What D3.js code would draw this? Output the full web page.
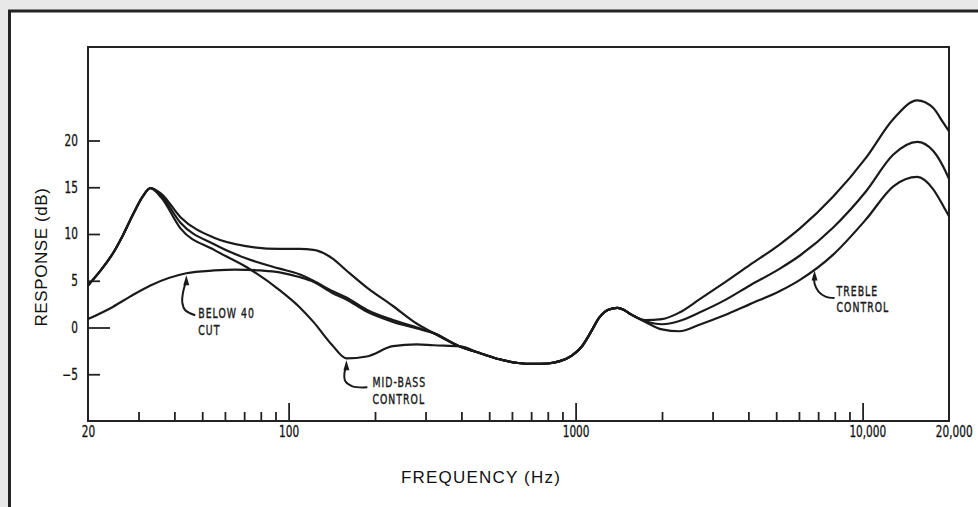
<!DOCTYPE html>
<html>
<head>
<meta charset="utf-8">
<script src="https://cdn.jsdelivr.net/npm/d3@7"></script>
<style>
  body { margin: 0; background: #e7e8e7; }
  svg { display: block; }
</style>
</head>
<body>
<script>
// axis ticks
const freqMinor = [30, 40, 50, 60, 70, 80, 90, 200, 300, 400, 500, 600, 700, 800, 900,
  2000, 3000, 4000, 5000, 6000, 7000, 8000, 9000]
const freqMajor = [100, 1000, 10000]
const freqLabels = [20, 100, 1000, 10000, 20000]
const dbTicks = [-5, 0, 5, 10, 15, 20]

// common bass rise up to the 33 Hz hump
const riseFreq = [20, 22, 24.5, 26.5, 28.6, 31]
const riseDb = [4.5, 6.0, 8.0, 9.9, 12.0, 14.0]

// mid-bass control: boost / flat / cut
const bassFreq = [33, 36, 42, 55, 71, 93, 109, 122, 142, 159, 187, 231, 280, 320]
const boostDb = [14.9, 14.3, 11.8, 9.6, 8.7, 8.4, 8.4, 8.3, 7.4, 6.1, 4.3, 2.3, 0.4, -0.6]
const flatDb = [14.9, 14.1, 11.2, 8.9, 7.4, 6.3, 5.7, 5.0, 3.9, 3.2, 1.9, 0.8, 0.0, -0.6]
const cutDb = [14.9, 13.9, 10.6, 8.3, 6.5, 4.0, 2.2, 0.6, -1.9, -3.3, -3.1, -2.0, -1.8, -1.9]

// below 40 cut
const below40Freq = [20, 24.4, 28, 33, 44, 55, 65, 80, 93, 109, 122, 142, 159, 187, 231, 280, 320]
const below40Db = [0.9, 2.2, 3.3, 4.5, 5.8, 6.1, 6.2, 6.1, 5.9, 5.4, 4.9, 3.7, 3.0, 1.7, 0.6, -0.1, -0.6]

// shared midrange
const midFreq = [393, 470, 543, 630, 712, 800, 881, 970, 1053, 1130, 1205, 1300, 1400, 1470, 1540]
const midDb = [-2.0, -2.8, -3.4, -3.8, -3.9, -3.85, -3.6, -3.0, -2.0, -0.5, 1.0, 1.9, 2.1, 1.9, 1.5]

// treble control
const trebleFreq = [1750, 2000, 2300, 2700, 3300, 4050, 5150, 6050, 7900, 10300, 12800, 15500, 17600, 19100, 20000]
const trebleTopDb = [0.8, 0.9, 1.6, 3.0, 4.8, 6.7, 8.9, 10.6, 14.0, 18.2, 22.3, 24.3, 23.5, 21.9, 21.0]
const trebleMidDb = [0.7, 0.35, 0.7, 1.6, 2.9, 4.5, 6.3, 7.7, 10.7, 14.6, 18.5, 19.85, 18.9, 17.2, 15.9]
const trebleLowDb = [0.6, -0.2, -0.4, 0.3, 1.3, 2.5, 3.9, 5.1, 7.8, 11.6, 15.1, 16.1, 14.8, 13.0, 11.9]

// annotations
const noteText = [['BELOW 40', 'CUT'], ['MID-BASS', 'CONTROL'], ['TREBLE', 'CONTROL']]
const noteFreq = [44, 159, 6800]
const noteDb = [5.8, -3.3, 6.3]

const w = 978
const h = 507
const padL = 88, padR = 949, padT = 47, padB = 421

const xScale = d3.scaleLog().domain([20, 20000]).range([padL, padR])
const yScale = d3.scaleLinear().domain([-10, 30]).range([padB, padT])

const pts = (f, v) => f.map((d, i) => [d, v[i]])

const curves = [
  [...pts(riseFreq, riseDb), ...pts(bassFreq, boostDb), ...pts(midFreq, midDb), ...pts(trebleFreq, trebleTopDb)],
  [...pts(riseFreq, riseDb), ...pts(bassFreq, flatDb), ...pts(midFreq, midDb), ...pts(trebleFreq, trebleMidDb)],
  [...pts(riseFreq, riseDb), ...pts(bassFreq, cutDb), ...pts(midFreq, midDb), ...pts(trebleFreq, trebleLowDb)],
  [...pts(below40Freq, below40Db), ...pts(midFreq, midDb)]
]

const svg = d3.select('body')
  .append('svg')
  .attr('width', w)
  .attr('height', h)

// paper panel
svg.append('rect')
  .attr('x', 9.5)
  .attr('y', 11)
  .attr('width', 1000)
  .attr('height', 600)
  .attr('fill', '#fff')
  .attr('stroke', '#222')
  .attr('stroke-width', 3)

// narrow lettering: condensed font squeezed horizontally
const narrowFont = "'DejaVu Sans Condensed', 'DejaVu Sans', sans-serif"

// x ticks (inward)
svg.append('g')
  .attr('transform', `translate(0, ${padB})`)
  .call(d3.axisBottom(xScale).tickValues(freqMinor).tickSize(-9).tickFormat(''))
svg.append('g')
  .attr('transform', `translate(0, ${padB})`)
  .call(d3.axisBottom(xScale).tickValues(freqMajor).tickSize(-18).tickFormat(''))
const xLab = svg.append('g')
  .attr('transform', `translate(0, ${padB})`)
  .call(d3.axisBottom(xScale).tickValues(freqLabels).tickSize(0).tickPadding(5)
    .tickFormat(d => d >= 10000 ? d3.format(',')(d) : d))
xLab.selectAll('text').attr('dx', d => d >= 10000 ? 6 : 0)

// y ticks (inward)
const yAx = svg.append('g')
  .attr('transform', `translate(${padL}, 0)`)
  .call(d3.axisLeft(yScale).tickValues(dbTicks).tickSize(-12).tickPadding(13))
yAx.selectAll('.tick').filter(d => d === 0).select('line').attr('x2', 22)

svg.selectAll('.domain').remove()
svg.selectAll('.tick line').attr('stroke', '#222').attr('stroke-width', 1.8)
svg.selectAll('.tick text')
  .attr('fill', '#111')
  .attr('stroke', '#111')
  .attr('stroke-width', 0.3)
  .attr('transform', 'scale(0.78, 1)')
  .style('font-family', narrowFont)
  .style('font-size', '15px')

// plot frame
svg.append('rect')
  .attr('x', padL)
  .attr('y', padT)
  .attr('width', padR - padL)
  .attr('height', padB - padT)
  .attr('fill', 'none')
  .attr('stroke', '#222')
  .attr('stroke-width', 2)

// response curves
const line = d3.line()
  .x(d => xScale(d[0]))
  .y(d => yScale(d[1]))
  .curve(d3.curveMonotoneX)

svg.selectAll('path.curve')
  .data(curves)
  .enter()
  .append('path')
  .attr('class', 'curve')
  .attr('d', line)
  .attr('fill', 'none')
  .attr('stroke', '#1a1a1a')
  .attr('stroke-width', 2.2)

// axis titles
svg.append('text')
  .attr('transform', `translate(46.5, 257) rotate(-90)`)
  .attr('text-anchor', 'middle')
  .style('font-family', "'Liberation Sans', Arial, sans-serif")
  .style('font-size', '17px')
  .style('letter-spacing', '0.6px')
  .attr('fill', '#111')
  .text('RESPONSE (dB)')

svg.append('text')
  .attr('x', 481)
  .attr('y', 482.5)
  .attr('text-anchor', 'middle')
  .style('font-family', "'Liberation Sans', Arial, sans-serif")
  .style('font-size', '17px')
  .style('letter-spacing', '1.2px')
  .attr('fill', '#111')
  .text('FREQUENCY (Hz)')

// annotation leaders: points relative to the arrow tip, and text offset
const leaders = [
  { path: [[0, 6], [-3, 16], [-4, 27], [-1, 35], [9, 40]], text: [12, 43] },
  { path: [[0, 6], [-2, 13], [-1, 21], [6, 26], [21, 27]], text: [26, 27] },
  { path: [[0, 6], [0, 13], [4, 21], [11, 26], [20, 27.5]], text: [22, 25] }
]

const leaderLine = d3.line().curve(d3.curveCatmullRom)

noteText.forEach((lines, i) => {
  const tx = xScale(noteFreq[i])
  const ty = yScale(noteDb[i]) + 2
  const g = svg.append('g').attr('transform', `translate(${tx}, ${ty})`)
  g.append('path')
    .attr('d', leaderLine(leaders[i].path))
    .attr('fill', 'none')
    .attr('stroke', '#1a1a1a')
    .attr('stroke-width', 2)
  g.append('path')
    .attr('d', 'M0,0L-3,10L3,10Z')
    .attr('fill', '#1a1a1a')
  g.selectAll('text')
    .data(lines)
    .enter()
    .append('text')
    .attr('transform', (d, j) => `translate(${leaders[i].text[0]}, ${leaders[i].text[1] + j * 16.5}) scale(0.74, 1)`)
    .style('font-family', narrowFont)
    .style('font-size', '14px')
    .style('letter-spacing', '1.4px')
    .attr('fill', '#1a1a1a')
    .attr('stroke', '#1a1a1a')
    .attr('stroke-width', 0.4)
    .text(d => d)
})
</script>
</body>
</html>
